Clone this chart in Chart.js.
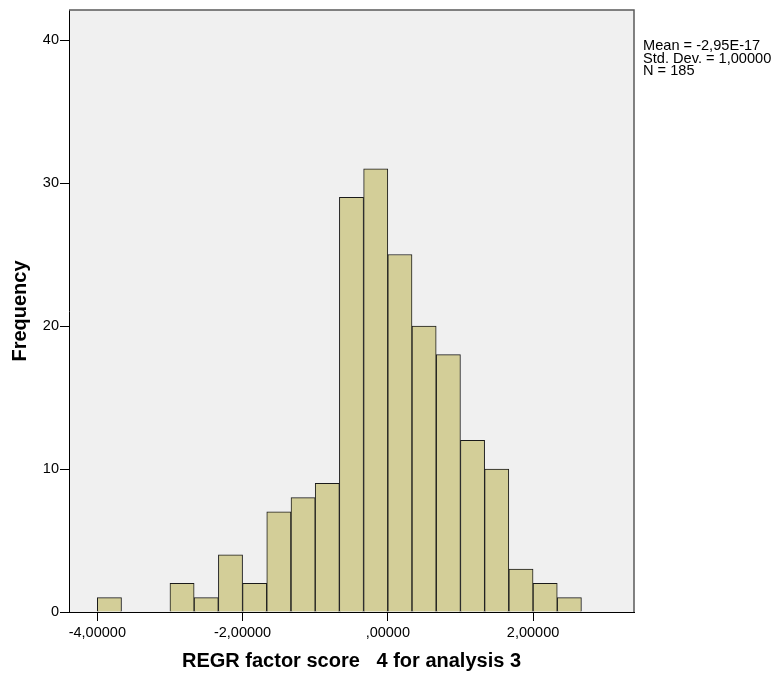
<!DOCTYPE html>
<html>
<head>
<meta charset="utf-8">
<script src="https://cdn.jsdelivr.net/npm/chart.js@4.4.1/dist/chart.umd.min.js"></script>
<style>
  html, body { margin: 0; padding: 0; background: #fff; }
  #wrap { position: relative; width: 777px; height: 679px; }
  #stats { position: absolute; left: 643px; top: 39px; font-family: "Liberation Sans", Arial, sans-serif; font-size: 14.6px; line-height: 12.6px; color: #000; white-space: pre; }
</style>
</head>
<body>
<div id="wrap">
  <canvas id="c" width="777" height="679"></canvas>
  <div id="stats"></div>
</div>
<script>
// ---- data ----
const binLower = [-4.000, -3.000, -2.667, -2.333, -2.000, -1.667, -1.333, -1.000, -0.667, -0.333, 0.000, 0.333, 0.667, 1.000, 1.333, 1.667, 2.000, 2.333];
const binWidth = 0.3333;
const counts   = [1, 2, 1, 4, 2, 7, 8, 9, 29, 31, 25, 20, 18, 12, 10, 3, 2, 1];
const xTicks = [-4, -2, 0, 2];
const yTicks = [0, 10, 20, 30, 40];
const statsLines = ["Mean = -2,95E-17", "Std. Dev. = 1,00000", "N = 185"];
const xTitle = "REGR factor score   4 for analysis 3";
const yTitle = "Frequency";

document.getElementById('stats').textContent = statsLines.join('\n');

const points = binLower.map((lo, i) => ({ x: lo + binWidth / 2, y: counts[i] }));

const FONT = "'Liberation Sans', Arial, sans-serif";

const bgPlugin = {
  id: 'bg',
  beforeDraw(chart) {
    const a = chart.chartArea, ctx = chart.ctx;
    ctx.save();
    ctx.fillStyle = '#f0f0f0';
    ctx.fillRect(a.left, a.top, a.right - a.left, a.bottom - a.top);
    ctx.restore();
  },
  afterDraw(chart) {
    const a = chart.chartArea, ctx = chart.ctx;
    ctx.save();
    ctx.strokeStyle = '#5a5a5a';
    ctx.lineWidth = 1.5;
    ctx.beginPath();
    ctx.moveTo(a.left, a.top);
    ctx.lineTo(a.right, a.top);
    ctx.lineTo(a.right, a.bottom);
    ctx.stroke();
    ctx.restore();
  }
};

new Chart(document.getElementById('c'), {
  type: 'bar',
  data: {
    datasets: [{
      data: points,
      backgroundColor: '#d3ce98',
      borderColor: '#1a1a1a',
      borderWidth: 1,
      borderSkipped: 'start',
      barPercentage: 1,
      categoryPercentage: 1
    }]
  },
  options: {
    responsive: false,
    animation: false,
    devicePixelRatio: 1,
    layout: { padding: { top: 10, right: 143, left: 0, bottom: 0 } },
    plugins: { legend: { display: false }, tooltip: { enabled: false } },
    scales: {
      x: {
        type: 'linear',
        offset: false,
        min: -4.39,
        max: 3.39,
        afterBuildTicks(s) { s.ticks = xTicks.map(v => ({ value: v })); },
        afterFit(s) { s.height = 67; },
        grid: { display: true, offset: false, drawOnChartArea: false, drawTicks: true, tickLength: 9, tickColor: '#000', tickWidth: 1 },
        border: { display: true, color: '#000', width: 1 },
        ticks: {
          color: '#000', padding: 3, maxRotation: 0, autoSkip: false,
          font: { family: FONT, size: 14.5 },
          callback: v => v === 0 ? ',00000' : v.toFixed(5).replace('.', ',')
        },
        title: {
          display: true, text: xTitle, color: '#000',
          font: { family: FONT, size: 20, weight: 'bold' },
          padding: { top: 0, bottom: 6 }
        }
      },
      y: {
        type: 'linear',
        min: 0,
        max: 42.1,
        afterBuildTicks(s) { s.ticks = yTicks.map(v => ({ value: v })); },
        afterFit(s) { s.width = 69; },
        grid: { display: true, drawOnChartArea: false, drawTicks: true, tickLength: 9, tickColor: '#000', tickWidth: 1 },
        border: { display: true, color: '#000', width: 1 },
        ticks: {
          color: '#000', padding: 1,
          font: { family: FONT, size: 14.5 },
          callback: v => String(v)
        },
        title: {
          display: true, text: yTitle, color: '#000',
          font: { family: FONT, size: 20, weight: 'bold' },
          padding: { top: 8, bottom: 0 }
        }
      }
    }
  },
  plugins: [bgPlugin]
});
</script>
</body>
</html>
